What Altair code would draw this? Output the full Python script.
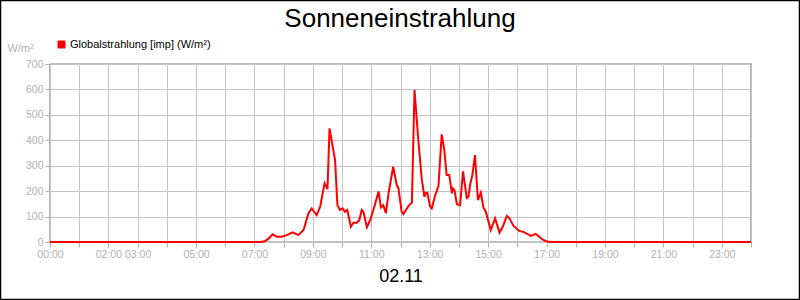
import altair as alt
import pandas as pd

# --- data (hour of day, W/m²) ---
hours = [0, 7.2, 7.35, 7.5, 7.62, 7.76, 7.93, 8.1, 8.31, 8.5, 8.68, 8.85, 8.96,
         9.13, 9.25, 9.4, 9.5, 9.57, 9.76, 9.84, 9.93, 10.02, 10.1, 10.18, 10.3,
         10.39, 10.5, 10.59, 10.67, 10.73, 10.85, 10.96, 11.07, 11.25, 11.33,
         11.41, 11.5, 11.59, 11.75, 11.87, 11.93, 12.04, 12.1, 12.22, 12.27,
         12.39, 12.48, 12.61, 12.73, 12.82, 12.87, 12.92, 13.01, 13.07, 13.18,
         13.3, 13.41, 13.5, 13.58, 13.67, 13.76, 13.79, 13.85, 13.93, 14.04,
         14.14, 14.27, 14.33, 14.38, 14.46, 14.55, 14.65, 14.75, 14.84, 14.92,
         15.09, 15.24, 15.39, 15.5, 15.64, 15.73, 15.87, 16.07, 16.21, 16.46,
         16.63, 16.78, 16.89, 17.0, 17.1, 24]
values = [0, 0, 3, 15, 30, 21, 21, 27, 38, 27, 47, 113, 132,
          106, 139, 231, 208, 447, 322, 145, 126, 132, 119, 126, 60,
          76, 76, 86, 126, 119, 58, 86, 126, 198, 136,
          145, 113, 191, 296, 224, 211, 119, 110, 132, 141,
          155, 598, 401, 244, 178, 194, 194, 141, 132, 181,
          220, 423, 362, 263, 263, 191, 211, 204, 149, 145,
          278, 173, 178, 224, 263, 342, 165, 194, 136, 119,
          47, 93, 37, 60, 102, 93, 63, 43, 40, 24,
          32, 18, 8, 3, 0, 0]
series_name = "Globalstrahlung [imp] (W/m²)"
chart_title = "Sonneneinstrahlung"

grid_hours = list(range(25))
tick_hours = [0, 2, 3, 5, 7, 9, 11, 13, 15, 17, 19, 21, 23]
tick_labels = ["00:00", "02:00", "03:00", "05:00", "07:00", "09:00", "11:00",
               "13:00", "15:00", "17:00", "19:00", "21:00", "23:00"]
y_ticks = [0, 100, 200, 300, 400, 500, 600, 700]

df = pd.DataFrame({"h": hours, "v": values, "s": series_name})

hours_js = "[" + ",".join(str(h) for h in tick_hours) + "]"
labels_js = "[" + ",".join("'" + t + "'" for t in tick_labels) + "]"
label_expr = (f"indexof({hours_js}, datum.value) >= 0 ? "
              f"{labels_js}[indexof({hours_js}, datum.value)] : ''")

FONT = "Liberation Sans"
GRAY = "#b0b0b0"

line = alt.Chart(df).mark_line(strokeWidth=2, clip=False).encode(
    x=alt.X("h:Q", scale=alt.Scale(domain=[0, 24], nice=False, zero=False),
            axis=alt.Axis(values=grid_hours, labelExpr=label_expr, title="02.11",
                          titleFontSize=18, titleFont=FONT, titleColor="black",
                          titleFontWeight="normal", titlePadding=8,
                          labelFlush=False, labelOverlap=False,
                          labelColor=GRAY, tickColor=GRAY, gridColor="#c4c4c4",
                          domain=False)),
    y=alt.Y("v:Q", scale=alt.Scale(domain=[0, 700], nice=False),
            axis=alt.Axis(values=y_ticks, title="W/m²", titleAngle=0,
                          titleX=-30, titleY=-16, titleAlign="center",
                          titleBaseline="middle", titleFontSize=11,
                          titleFont=FONT, titleColor=GRAY,
                          titleFontWeight="normal",
                          labelColor=GRAY, tickColor=GRAY, gridColor="#c4c4c4",
                          domain=False)),
    color=alt.Color("s:N", scale=alt.Scale(range=["#ff0000"]),
                    legend=alt.Legend(title=None, orient="none", legendX=6,
                                      legendY=-25, symbolType="square",
                                      symbolSize=49, labelFontSize=11,
                                      labelFont=FONT, labelColor="black",
                                      labelOffset=3, padding=0,
                                      symbolFillColor="#ff0000",
                                      symbolStrokeColor="#400000",
                                      symbolStrokeWidth=1)),
)

frame = alt.Chart(pd.DataFrame({"a": [0]})).mark_rect(
    fill=None, stroke="black", strokeWidth=1.5, clip=False
).encode(x=alt.value(-49.5), x2=alt.value(749.5), y=alt.value(-63.5), y2=alt.value(235.5))

title_text = alt.Chart(pd.DataFrame({"a": [0]})).mark_text(
    text=chart_title, font=FONT, fontSize=26, color="black",
    align="center", baseline="alphabetic"
).encode(x=alt.value(350), y=alt.value(-37))

chart = alt.layer(line, frame, title_text).properties(
    width=701, height=178,
    autosize=alt.AutoSizeParams(type="none"),
    padding={"left": 50, "top": 64, "right": 49, "bottom": 58},
).configure_view(stroke="black", strokeWidth=1.2).configure_axis(
    grid=True, gridWidth=1, tickSize=5,
    labelFont=FONT, labelFontSize=10.5, labelPadding=2,
)

chart.save("out.html", embed_options={"renderer": "svg", "actions": False})
